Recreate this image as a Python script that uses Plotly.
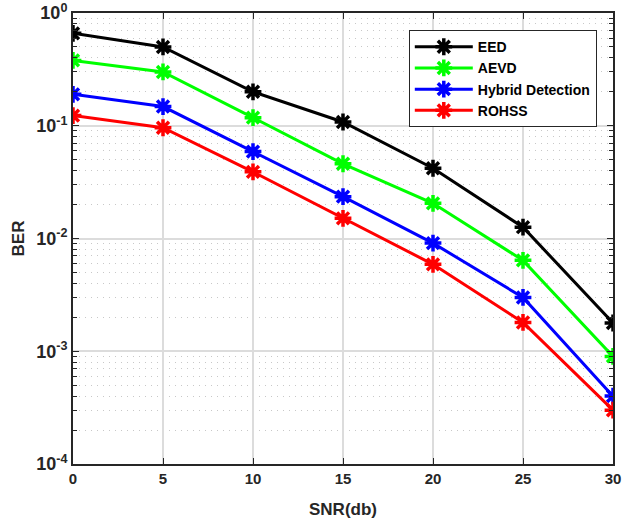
import plotly.graph_objects as go

# SNR values (dB) and BER per method
snr = [0, 5, 10, 15, 20, 25, 30]
ber_eed = [0.66, 0.50, 0.20, 0.108, 0.042, 0.0126, 0.00178]
ber_aevd = [0.38, 0.30, 0.118, 0.046, 0.0205, 0.0064, 0.0009]
ber_hybrid = [0.19, 0.148, 0.059, 0.0235, 0.0091, 0.003, 0.0004]
ber_rohss = [0.123, 0.096, 0.039, 0.0151, 0.0059, 0.0018, 0.0003]

series = [
    ("EED", ber_eed, "#000000"),
    ("AEVD", ber_aevd, "#00ff00"),
    ("Hybrid Detection", ber_hybrid, "#0000ff"),
    ("ROHSS", ber_rohss, "#ff0000"),
]

y_ticks = [1, 0.1, 0.01, 0.001, 0.0001]
y_labels = ["10<sup>0</sup>", "10<sup>-1</sup>", "10<sup>-2</sup>", "10<sup>-3</sup>", "10<sup>-4</sup>"]

fig = go.Figure()
for name, vals, col in series:
    fig.add_trace(go.Scatter(
        x=snr, y=vals, name=name, mode="lines+markers",
        line=dict(color=col, width=3),
        marker=dict(symbol="asterisk-open", size=14, color=col, line=dict(color=col, width=3.5)),
    ))

axis_col = "#262626"
fig.update_layout(
    width=634, height=522,
    margin=dict(l=73, r=21, t=13, b=58),
    paper_bgcolor="white", plot_bgcolor="white",
    font=dict(family="Liberation Sans, Arial", size=14, color=axis_col),
    showlegend=True,
    legend=dict(
        x=0.97, y=0.962, xanchor="right", yanchor="top",
        bgcolor="white", bordercolor=axis_col, borderwidth=1,
        font=dict(size=14, family="Liberation Sans, Arial", color="#000000", weight="bold"),
        tracegroupgap=0, itemwidth=58,
    ),
)
fig.update_xaxes(
    range=[0, 30], dtick=5, tick0=0, automargin=False, ticklabeloverflow="allow",
    showline=True, mirror="ticks", linecolor=axis_col, linewidth=2,
    ticks="inside", ticklen=6, tickcolor=axis_col,
    showgrid=True, gridcolor="#dcdcdc", gridwidth=1.5, zeroline=False,
    tickfont=dict(size=15, weight="bold"),
    title=dict(text="<b>SNR(db)</b>", font=dict(size=17), standoff=17),
)
fig.update_yaxes(
    type="log", range=[-4, 0], automargin=False, ticklabeloverflow="allow",
    tickvals=y_ticks, ticktext=y_labels,
    showline=True, mirror="ticks", linecolor=axis_col, linewidth=2,
    ticks="inside", ticklen=6, tickcolor=axis_col,
    showgrid=True, gridcolor="#dcdcdc", gridwidth=1.5, zeroline=False,
    tickfont=dict(size=18, weight="bold"),
    minor=dict(dtick="D1", ticks="inside", ticklen=4, tickcolor=axis_col,
               showgrid=True, gridcolor="#c8c8c8", griddash="1px,5px", gridwidth=1),
    title=dict(text="<b>BER</b>", font=dict(size=17), standoff=7),
)

# drop the browser's default 8px body margin so the figure fills the window
fig.write_html("out.html", config={"displayModeBar": False},
               post_script="document.body.style.margin='0';")
